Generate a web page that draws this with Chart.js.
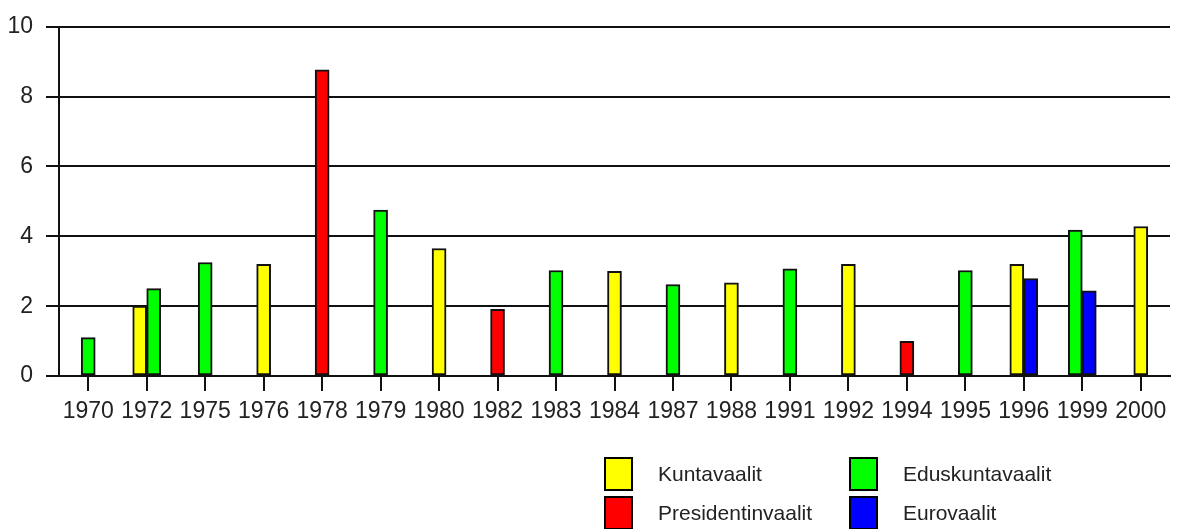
<!DOCTYPE html>
<html>
<head>
<meta charset="utf-8">
<script src="https://cdn.jsdelivr.net/npm/chart.js@4"></script>
<style>
    body { margin: 0; background: #fff; }
    #wrap { position: relative; width: 1180px; height: 529px; }
    #legend {
        position: absolute; left: 604px; top: 457px;
        display: grid; grid-template-columns: 245px 245px; row-gap: 6px;
        font-family: "Liberation Sans", Arial, sans-serif; font-size: 21px; color: #222;
    }
    .item { display: flex; align-items: center; height: 33px; }
    .box { width: 25px; height: 30px; border: 2px solid #000; margin-right: 25px; }
</style>
</head>
<body>
<div id="wrap">
    <canvas id="chart" width="1180" height="529"></canvas>
    <div id="legend"></div>
</div>
<script>
const years = ['1970', '1972', '1975', '1976', '1978', '1979', '1980', '1982', '1983', '1984',
               '1987', '1988', '1991', '1992', '1994', '1995', '1996', '1999', '2000'];

// null = no election of that kind that year
const kuntavaalit      = [null, 2.0, null, 3.2, null, null, 3.65, null, null, 3.0, null, 2.67, null, 3.2, null, null, 3.2, null, 4.28];
const eduskuntavaalit  = [1.1, 2.5, 3.25, null, null, 4.75, null, null, 3.02, null, 2.62, null, 3.07, null, null, 3.02, null, 4.18, null];
const presidentinvaalit = [null, null, null, null, 8.77, null, null, 1.91, null, null, null, null, null, null, 0.99, null, null, null, null];
const eurovaalit       = [null, null, null, null, null, null, null, null, null, null, null, null, null, null, null, null, 2.79, 2.44, null];

const yTicks = [0, 2, 4, 6, 8, 10];

const series = [
    { label: 'Kuntavaalit', data: kuntavaalit, color: '#ffff00' },
    { label: 'Eduskuntavaalit', data: eduskuntavaalit, color: '#00ff00' },
    { label: 'Presidentinvaalit', data: presidentinvaalit, color: '#ff0000' },
    { label: 'Eurovaalit', data: eurovaalit, color: '#0000ff' }
];

const font = { family: '"Liberation Sans", Arial, sans-serif', size: 23 };

new Chart(document.getElementById('chart'), {
    type: 'bar',
    data: {
        labels: years,
        datasets: series.map(s => ({
            label: s.label,
            data: s.data,
            backgroundColor: s.color,
            borderColor: '#111',
            borderWidth: 2,
            borderSkipped: false,
            barThickness: 14
        }))
    },
    options: {
        responsive: false,
        animation: false,
        skipNull: true,
        layout: { padding: { top: 24, right: 10, left: 0, bottom: 0 } },
        plugins: {
            legend: { display: false },
            tooltip: { enabled: false }
        },
        scales: {
            x: {
                afterFit: scale => { scale.height = 153; },
                grid: { drawOnChartArea: false, offset: false, tickLength: 15, color: '#111', lineWidth: 2 },
                border: { color: '#111', width: 2 },
                ticks: { color: '#222', font: font, maxRotation: 0, autoSkip: false, padding: 7 }
            },
            y: {
                min: 0,
                max: 10,
                afterFit: scale => { scale.width = 59; },
                afterBuildTicks: scale => { scale.ticks = yTicks.map(v => ({ value: v })); },
                grid: { color: '#111', lineWidth: 2, tickLength: 13 },
                border: { color: '#111', width: 2 },
                ticks: { color: '#222', font: font, padding: 13 }
            }
        }
    }
});

// legend in two columns like the original
const legendEl = document.getElementById('legend');
series.forEach(s => {
    const item = document.createElement('div');
    item.className = 'item';
    const box = document.createElement('div');
    box.className = 'box';
    box.style.background = s.color;
    const text = document.createElement('span');
    text.textContent = s.label;
    item.appendChild(box);
    item.appendChild(text);
    legendEl.appendChild(item);
});
</script>
</body>
</html>
